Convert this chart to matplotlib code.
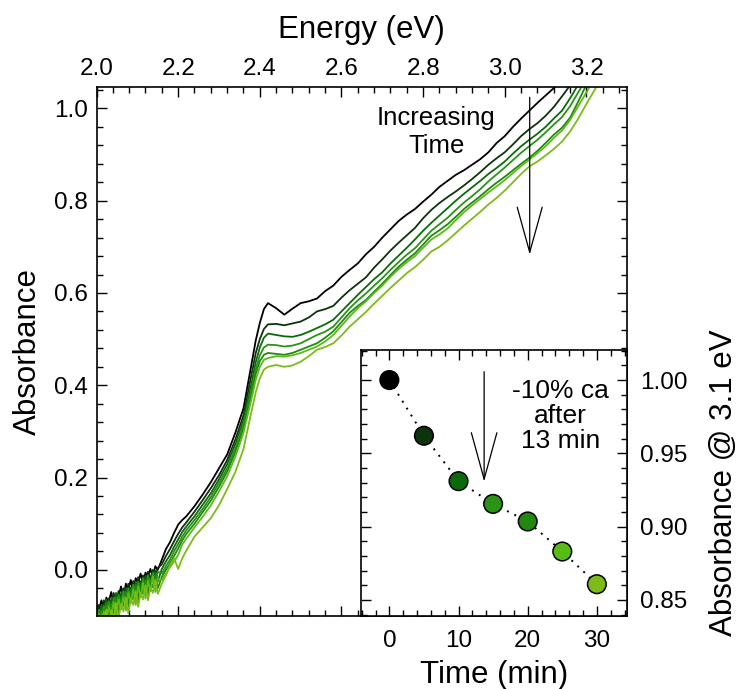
import numpy as np
import matplotlib
matplotlib.use('Agg')
import matplotlib.pyplot as plt
from matplotlib.ticker import MultipleLocator
from matplotlib.patches import ArrowStyle

plt.rcParams['font.family'] = ['Liberation Sans', 'DejaVu Sans']

# ---------------- data ----------------
energy_noise = [2.000, 2.006, 2.012, 2.018, 2.024, 2.030, 2.036, 2.042, 2.048, 2.054,
                2.060, 2.066, 2.072, 2.078, 2.084, 2.090, 2.096, 2.102, 2.108, 2.114,
                2.120, 2.126, 2.132, 2.138, 2.144, 2.150]
energy_smooth = [2.16, 2.17, 2.18, 2.19, 2.20, 2.21, 2.22,
                 2.24, 2.26, 2.28, 2.30, 2.32, 2.34, 2.36, 2.38,
                 2.39, 2.40, 2.41, 2.42,
                 2.44, 2.46, 2.48, 2.50, 2.52, 2.54, 2.56, 2.58, 2.60, 2.62,
                 2.64, 2.66, 2.68, 2.70, 2.72, 2.74, 2.76, 2.78, 2.80, 2.82,
                 2.84, 2.86, 2.88, 2.90, 2.92, 2.94, 2.96, 2.98, 3.00, 3.02,
                 3.04, 3.06, 3.08, 3.10, 3.12, 3.14, 3.16, 3.18, 3.20, 3.22,
                 3.24, 3.26]

noise_t00 = [-0.075, -0.088, -0.066, -0.085, -0.060, -0.070, -0.048, -0.074, -0.052, -0.058,
             -0.036, -0.060, -0.030, -0.044, -0.022, -0.047, -0.018, -0.028, -0.008, -0.030,
             -0.006, -0.014, 0.002, -0.016, 0.008, 0.000]
noise_t05 = [-0.094, -0.076, -0.090, -0.066, -0.084, -0.062, -0.072, -0.050, -0.075, -0.046,
             -0.060, -0.040, -0.062, -0.030, -0.048, -0.024, -0.046, -0.016, -0.032, -0.012,
             -0.030, -0.004, -0.020, 0.000, -0.012, 0.004]
noise_t10 = [-0.085, -0.100, -0.078, -0.092, -0.064, -0.095, -0.066, -0.078, -0.050, -0.082,
             -0.052, -0.066, -0.040, -0.070, -0.038, -0.052, -0.026, -0.056, -0.028, -0.040,
             -0.014, -0.042, -0.016, -0.026, -0.002, -0.026]
noise_t15 = [-0.106, -0.086, -0.100, -0.078, -0.096, -0.068, -0.088, -0.060, -0.090, -0.054,
             -0.074, -0.046, -0.078, -0.040, -0.060, -0.032, -0.064, -0.026, -0.048, -0.018,
             -0.050, -0.012, -0.034, -0.006, -0.036, -0.004]
noise_t20 = [-0.094, -0.110, -0.088, -0.104, -0.074, -0.106, -0.076, -0.090, -0.060, -0.094,
             -0.063, -0.078, -0.048, -0.082, -0.050, -0.064, -0.034, -0.068, -0.038, -0.052,
             -0.022, -0.054, -0.027, -0.038, -0.010, -0.040]
noise_t25 = [-0.118, -0.096, -0.110, -0.090, -0.112, -0.080, -0.098, -0.070, -0.100, -0.064,
             -0.086, -0.058, -0.088, -0.050, -0.072, -0.042, -0.076, -0.036, -0.060, -0.028,
             -0.062, -0.024, -0.046, -0.014, -0.048, -0.018]
noise_t30 = [-0.104, -0.122, -0.098, -0.114, -0.086, -0.118, -0.088, -0.102, -0.072, -0.106,
             -0.074, -0.090, -0.060, -0.094, -0.062, -0.076, -0.046, -0.080, -0.050, -0.064,
             -0.034, -0.066, -0.038, -0.050, -0.022, -0.052]

smooth_t00 = [0.022, 0.045, 0.060, 0.080, 0.098, 0.108, 0.116,
              0.138, 0.163, 0.190, 0.220, 0.250, 0.297, 0.350, 0.448,
              0.497, 0.535, 0.565, 0.578,
              0.567, 0.553, 0.566, 0.578, 0.582, 0.588, 0.604, 0.616, 0.635, 0.650,
              0.664, 0.684, 0.700, 0.720, 0.738, 0.756, 0.770, 0.782, 0.798, 0.813,
              0.830, 0.843, 0.856, 0.866, 0.878, 0.890, 0.905, 0.925, 0.940, 0.960,
              0.978, 0.995, 1.012, 1.028, 1.044, 1.062, 1.085, 1.110, 1.135, 1.160,
              1.185, 1.210]
smooth_t05 = [0.012, 0.030, 0.045, 0.062, 0.078, 0.092, 0.103,
              0.126, 0.151, 0.177, 0.205, 0.238, 0.282, 0.335, 0.425,
              0.470, 0.500, 0.522, 0.532,
              0.533, 0.530, 0.534, 0.538, 0.547, 0.560, 0.565, 0.572, 0.590, 0.606,
              0.620, 0.634, 0.655, 0.673, 0.692, 0.709, 0.725, 0.741, 0.762, 0.780,
              0.795, 0.808, 0.820, 0.833, 0.847, 0.862, 0.878, 0.892, 0.905, 0.922,
              0.940, 0.955, 0.968, 0.984, 1.003, 1.026, 1.050, 1.075, 1.100, 1.125,
              1.150, 1.175]
smooth_t10 = [0.002, 0.018, 0.032, 0.050, 0.066, 0.082, 0.094,
              0.116, 0.141, 0.166, 0.196, 0.229, 0.272, 0.325, 0.405,
              0.450, 0.482, 0.503, 0.512,
              0.509, 0.506, 0.505, 0.509, 0.516, 0.524, 0.532, 0.542, 0.560, 0.578,
              0.596, 0.613, 0.630, 0.645, 0.664, 0.681, 0.698, 0.716, 0.735, 0.752,
              0.768, 0.784, 0.800, 0.815, 0.829, 0.843, 0.858, 0.871, 0.885, 0.902,
              0.918, 0.932, 0.945, 0.960, 0.978, 0.995, 1.022, 1.052, 1.080, 1.105,
              1.130, 1.155]
smooth_t15 = [-0.008, 0.008, 0.022, 0.040, 0.056, 0.072, 0.086,
              0.108, 0.132, 0.158, 0.188, 0.220, 0.262, 0.315, 0.392,
              0.435, 0.465, 0.482, 0.488,
              0.487, 0.484, 0.486, 0.491, 0.500, 0.509, 0.516, 0.527, 0.547, 0.567,
              0.584, 0.599, 0.616, 0.632, 0.650, 0.667, 0.683, 0.697, 0.716, 0.735,
              0.749, 0.763, 0.780, 0.796, 0.810, 0.825, 0.842, 0.857, 0.872, 0.888,
              0.904, 0.918, 0.932, 0.948, 0.965, 0.981, 1.005, 1.035, 1.065, 1.090,
              1.115, 1.140]
smooth_t20 = [-0.015, 0.000, 0.014, 0.030, 0.046, 0.064, 0.078,
              0.100, 0.125, 0.150, 0.180, 0.213, 0.255, 0.307, 0.383,
              0.425, 0.452, 0.466, 0.470,
              0.468, 0.466, 0.470, 0.477, 0.484, 0.491, 0.503, 0.517, 0.537, 0.557,
              0.572, 0.585, 0.603, 0.620, 0.639, 0.657, 0.672, 0.686, 0.705, 0.724,
              0.736, 0.749, 0.765, 0.782, 0.796, 0.810, 0.825, 0.839, 0.852, 0.866,
              0.880, 0.893, 0.908, 0.925, 0.943, 0.958, 0.980, 1.015, 1.052, 1.080,
              1.105, 1.130]
smooth_t25 = [-0.022, -0.008, 0.006, 0.018, 0.032, 0.055, 0.068,
              0.092, 0.115, 0.140, 0.170, 0.203, 0.245, 0.297, 0.372,
              0.412, 0.440, 0.455, 0.459,
              0.463, 0.462, 0.465, 0.470, 0.477, 0.484, 0.495, 0.509, 0.529, 0.549,
              0.567, 0.582, 0.600, 0.616, 0.635, 0.652, 0.667, 0.680, 0.698, 0.716,
              0.727, 0.740, 0.758, 0.775, 0.790, 0.804, 0.818, 0.831, 0.845, 0.860,
              0.875, 0.889, 0.903, 0.918, 0.936, 0.952, 0.975, 1.005, 1.035, 1.065,
              1.090, 1.115]
smooth_t30 = [-0.030, -0.012, 0.010, 0.025, 0.002, 0.025, 0.042,
              0.072, 0.092, 0.112, 0.140, 0.175, 0.212, 0.262, 0.345,
              0.385, 0.415, 0.434, 0.440,
              0.444, 0.440, 0.443, 0.451, 0.463, 0.477, 0.483, 0.491, 0.508, 0.527,
              0.543, 0.559, 0.577, 0.594, 0.611, 0.627, 0.643, 0.656, 0.672, 0.690,
              0.700, 0.714, 0.730, 0.746, 0.761, 0.776, 0.792, 0.806, 0.822, 0.840,
              0.858, 0.874, 0.885, 0.898, 0.912, 0.928, 0.950, 0.978, 1.010, 1.040,
              1.070, 1.100]

times = [0, 5, 10, 15, 20, 25, 30]
abs_at_31 = [1.000, 0.962, 0.931, 0.9155, 0.9035, 0.883, 0.8607]
colors = ['#000000', '#0d330d', '#0a6a0a', '#2a9214', '#22880e', '#58bb16', '#7cbb18']

noise_sets = [noise_t00, noise_t05, noise_t10, noise_t15, noise_t20, noise_t25, noise_t30]
smooth_sets = [smooth_t00, smooth_t05, smooth_t10, smooth_t15, smooth_t20, smooth_t25, smooth_t30]

# ---------------- figure ----------------
fig = plt.figure(figsize=(7.42, 6.89), dpi=100)
W, H = 742.0, 689.0
ax = fig.add_axes([96.5 / W, 1 - 616 / H, (627.3 - 96.5) / W, (616 - 86.7) / H])

energy = energy_noise + energy_smooth
for n, s, c in zip(noise_sets, smooth_sets, colors):
    ax.plot(energy, n + s, color=c, lw=1.3, solid_joinstyle='round')

ax.set_xlim(2.0, 3.30)
ax.set_ylim(-0.10, 1.047)
ax.xaxis.set_major_locator(MultipleLocator(0.2))
ax.xaxis.set_minor_locator(MultipleLocator(0.04))
ax.yaxis.set_major_locator(MultipleLocator(0.2))
ax.yaxis.set_minor_locator(MultipleLocator(0.04))
ax.tick_params(which='both', direction='in', top=True, bottom=True, left=True, right=True,
               labeltop=True, labelbottom=False, labelleft=True, labelright=False,
               width=1.0, labelsize=17.5)
ax.tick_params(which='major', length=7)
ax.tick_params(which='minor', length=4.3)
ax.tick_params(axis='x', pad=5)
ax.tick_params(axis='y', pad=6)
ax.xaxis.set_label_position('top')
for sp in ax.spines.values():
    sp.set_linewidth(1.2)

ax.set_xlabel('Energy (eV)', fontsize=22.5)
ax.xaxis.label.set_va('center')
ax.xaxis.set_label_coords(0.5, (616 - 30) / (616 - 86.7))
ax.set_ylabel('Absorbance', fontsize=22.5)
ax.yaxis.label.set_va('center')
ax.yaxis.set_label_coords((28 - 96.5) / (627.3 - 96.5), 0.5)

ax.text(2.832, 0.949, 'Increasing\nTime', ha='center', va='center',
        fontsize=18.5, linespacing=1.2)
ax.annotate('', xy=(3.061, 0.683), xytext=(3.061, 1.024),
            arrowprops=dict(arrowstyle=ArrowStyle('->', head_length=32.5, head_width=9),
                            mutation_scale=1, lw=0.9, color='k', shrinkA=0, shrinkB=0))

# ---------------- inset ----------------
ins = fig.add_axes([361 / W, 1 - 616 / H, (627.3 - 361) / W, (616 - 350) / H])
ins.set_facecolor('white')
ins.plot(times, abs_at_31, color='k', lw=1.4, ls=(0, (1, 3.2)), zorder=1)
ins.scatter(times, abs_at_31, s=180, c=colors, edgecolors='k', linewidths=1.1, zorder=3)
ins.set_xlim(-4.1, 34.4)
ins.set_ylim(0.839, 1.0205)
ins.xaxis.set_major_locator(MultipleLocator(10))
ins.xaxis.set_minor_locator(MultipleLocator(2))
ins.yaxis.set_major_locator(MultipleLocator(0.05))
ins.yaxis.set_minor_locator(MultipleLocator(0.01))
ins.tick_params(which='both', direction='in', top=True, bottom=True, left=True, right=True,
                labeltop=False, labelbottom=True, labelleft=False, labelright=True,
                width=1.0, labelsize=17.5)
ins.tick_params(which='major', length=7)
ins.tick_params(which='minor', length=4.3)
ins.tick_params(axis='x', pad=10)
ins.tick_params(axis='y', pad=9)
for sp in ins.spines.values():
    sp.set_linewidth(1.2)

ins.set_xlabel('Time (min)', fontsize=22.5)
ins.xaxis.label.set_va('center')
ins.xaxis.set_label_coords(0.4995, (616 - 675) / (616 - 350))
ins.yaxis.set_label_position('right')
ins.set_ylabel('Absorbance @ 3.1 eV', fontsize=22.5, rotation=90)
ins.yaxis.label.set_va('center')
ins.yaxis.label.set_ha('center')
ins.yaxis.set_label_coords((724 - 361) / (627.3 - 361), 0.5)

ins.text(24.7, 0.9755, '-10% ca\nafter\n13 min', ha='center', va='center',
         fontsize=19, linespacing=1.05)
ins.annotate('', xy=(13.7, 0.9307), xytext=(13.7, 1.0057),
             arrowprops=dict(arrowstyle=ArrowStyle('->', head_length=33.5, head_width=9.2),
                             mutation_scale=1, lw=0.9, color='k', shrinkA=0, shrinkB=0))

fig.savefig('out.png', dpi=100)
